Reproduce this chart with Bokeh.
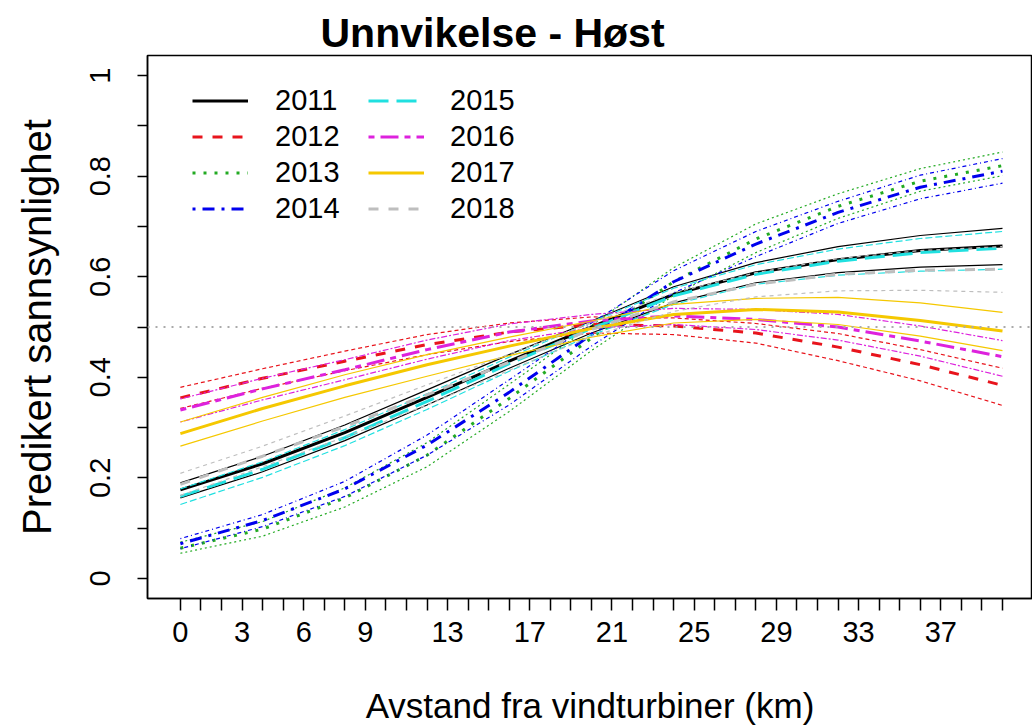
from bokeh.plotting import figure
from bokeh.models import Range1d, FixedTicker, Span, Legend, LegendItem, Title
from bokeh.embed import file_html
from bokeh.resources import INLINE

# ---------------- data ----------------
km = [0, 4, 8, 12, 16, 20, 24, 28, 32, 36, 40]

mean_2011 = [0.176, 0.228, 0.290, 0.360, 0.432, 0.500, 0.565, 0.608, 0.634, 0.652, 0.661]
hi_2011 = [0.190, 0.243, 0.305, 0.375, 0.445, 0.512, 0.580, 0.628, 0.660, 0.682, 0.696]
lo_2011 = [0.160, 0.212, 0.274, 0.345, 0.418, 0.488, 0.548, 0.588, 0.608, 0.619, 0.624]

mean_2012 = [0.359, 0.398, 0.432, 0.465, 0.490, 0.505, 0.502, 0.488, 0.460, 0.425, 0.384]
hi_2012 = [0.380, 0.417, 0.452, 0.485, 0.508, 0.520, 0.518, 0.507, 0.487, 0.455, 0.418]
lo_2012 = [0.338, 0.378, 0.413, 0.445, 0.471, 0.488, 0.485, 0.468, 0.433, 0.393, 0.344]

mean_2013 = [0.060, 0.098, 0.160, 0.245, 0.358, 0.478, 0.590, 0.675, 0.740, 0.790, 0.821]
hi_2013 = [0.072, 0.113, 0.180, 0.270, 0.386, 0.503, 0.618, 0.705, 0.765, 0.815, 0.848]
lo_2013 = [0.050, 0.084, 0.142, 0.222, 0.332, 0.453, 0.563, 0.648, 0.716, 0.770, 0.801]

mean_2014 = [0.069, 0.115, 0.178, 0.265, 0.370, 0.485, 0.590, 0.665, 0.728, 0.778, 0.810]
hi_2014 = [0.079, 0.127, 0.193, 0.285, 0.395, 0.508, 0.612, 0.690, 0.750, 0.802, 0.835]
lo_2014 = [0.059, 0.103, 0.163, 0.245, 0.345, 0.462, 0.568, 0.640, 0.706, 0.755, 0.786]

mean_2015 = [0.163, 0.217, 0.280, 0.352, 0.427, 0.497, 0.562, 0.605, 0.631, 0.648, 0.657]
hi_2015 = [0.178, 0.232, 0.296, 0.367, 0.440, 0.510, 0.577, 0.624, 0.655, 0.676, 0.690]
lo_2015 = [0.147, 0.201, 0.264, 0.336, 0.412, 0.484, 0.545, 0.585, 0.603, 0.611, 0.615]

mean_2016 = [0.335, 0.377, 0.415, 0.455, 0.490, 0.512, 0.522, 0.515, 0.500, 0.472, 0.441]
hi_2016 = [0.357, 0.398, 0.435, 0.474, 0.506, 0.525, 0.537, 0.535, 0.525, 0.502, 0.473]
lo_2016 = [0.311, 0.355, 0.395, 0.436, 0.473, 0.498, 0.505, 0.495, 0.474, 0.442, 0.402]

mean_2017 = [0.288, 0.338, 0.383, 0.425, 0.462, 0.497, 0.525, 0.535, 0.530, 0.513, 0.492]
hi_2017 = [0.311, 0.360, 0.405, 0.445, 0.480, 0.512, 0.545, 0.557, 0.559, 0.548, 0.529]
lo_2017 = [0.263, 0.313, 0.360, 0.402, 0.443, 0.480, 0.508, 0.515, 0.505, 0.482, 0.453]

mean_2018 = [0.187, 0.243, 0.302, 0.365, 0.430, 0.495, 0.550, 0.585, 0.605, 0.613, 0.615]
hi_2018 = [0.209, 0.263, 0.323, 0.385, 0.446, 0.508, 0.568, 0.608, 0.636, 0.652, 0.660]
lo_2018 = [0.165, 0.222, 0.281, 0.345, 0.414, 0.481, 0.531, 0.560, 0.572, 0.573, 0.569]

years = ["2011", "2012", "2013", "2014", "2015", "2016", "2017", "2018"]

y_ticks = [0.0, 0.1, 0.2, 0.3, 0.4, 0.5, 0.6, 0.7, 0.8, 0.9, 1.0]
y_tick_labels = ["0", "", "0.2", "", "0.4", "", "0.6", "", "0.8", "", "1"]
x_ticks = list(range(0, 41))
x_labelled = [0, 3, 6, 9, 13, 17, 21, 25, 29, 33, 37]

title_text = "Unnvikelse - Høst"
x_title = "Avstand fra vindturbiner (km)"
y_title = "Predikert sannsynlighet"

# ---------------- styles ----------------
series = {
    "2011": (mean_2011, lo_2011, hi_2011),
    "2012": (mean_2012, lo_2012, hi_2012),
    "2013": (mean_2013, lo_2013, hi_2013),
    "2014": (mean_2014, lo_2014, hi_2014),
    "2015": (mean_2015, lo_2015, hi_2015),
    "2016": (mean_2016, lo_2016, hi_2016),
    "2017": (mean_2017, lo_2017, hi_2017),
    "2018": (mean_2018, lo_2018, hi_2018),
}
colors = {
    "2011": "#000000", "2012": "#E8141C", "2013": "#22AA22", "2014": "#0000EE",
    "2015": "#20E0E0", "2016": "#DD22DD", "2017": "#F5C800", "2018": "#BEBEBE",
}
dash_thick = {
    "2011": "solid", "2012": "10 10", "2013": "3 8", "2014": "3 7 12 7",
    "2015": "20 8", "2016": "6 6 18 6", "2017": "solid", "2018": "10 10",
}
dash_thin = {
    "2011": "solid", "2012": "4 3", "2013": "2 3", "2014": "1 3 4 3",
    "2015": "7 3", "2016": "2 2 6 2", "2017": "solid", "2018": "4 4",
}

FONT = "Liberation Sans"

p = figure(width=1032, height=727,
           x_range=Range1d(-1.6, 41.46), y_range=Range1d(-0.04, 1.04),
           output_backend="svg", toolbar_location=None,
           min_border_left=147, min_border_right=0,
           min_border_top=55, min_border_bottom=129)

p.title = Title(text=title_text, align="left", offset=173,
                text_font=FONT, text_font_size="41px", text_font_style="bold",
                text_color="black", standoff=0)

p.xgrid.visible = False
p.ygrid.visible = False
p.outline_line_color = "black"
p.outline_line_width = 1.5
p.background_fill_color = "white"
p.border_fill_color = "white"

# reference line
p.add_layout(Span(location=0.5, dimension="width", line_color="#AAAAAA",
                  line_dash="2 6", line_width=2))

mean_renderers = {}
for yr in years:
    m, lo, hi = series[yr]
    c = colors[yr]
    p.line(km, lo, line_color=c, line_width=1.2, line_dash=dash_thin[yr])
    p.line(km, hi, line_color=c, line_width=1.2, line_dash=dash_thin[yr])
    mean_renderers[yr] = p.line(km, m, line_color=c, line_width=3, line_dash=dash_thick[yr])

# axes
xax = p.xaxis[0]
xax.ticker = FixedTicker(ticks=x_ticks)
xax.major_label_overrides = {t: (str(t) if t in x_labelled else "") for t in x_ticks}
xax.major_tick_out = 12
xax.major_tick_in = 0
xax.major_tick_line_width = 1.5
xax.minor_tick_line_color = None
xax.axis_line_width = 1.5
xax.major_label_standoff = 11
xax.major_label_text_font = FONT
xax.major_label_text_font_size = "29px"
xax.major_label_text_color = "black"
xax.axis_label = x_title
xax.axis_label_text_font = FONT
xax.axis_label_text_font_size = "35px"
xax.axis_label_text_font_style = "normal"
xax.axis_label_text_color = "black"
xax.axis_label_standoff = 41

yax = p.yaxis[0]
yax.ticker = FixedTicker(ticks=y_ticks)
yax.major_label_overrides = {t: lab for t, lab in zip(y_ticks, y_tick_labels)}
yax.major_label_orientation = "vertical"
yax.major_tick_out = 10
yax.major_tick_in = 0
yax.major_tick_line_width = 1.5
yax.minor_tick_line_color = None
yax.axis_line_width = 1.5
yax.major_label_standoff = 27
yax.major_label_text_font = FONT
yax.major_label_text_font_size = "29px"
yax.major_label_text_color = "black"
yax.axis_label = y_title
yax.axis_label_text_font = FONT
yax.axis_label_text_font_size = "40px"
yax.axis_label_text_font_style = "normal"
yax.axis_label_text_color = "black"
yax.axis_label_standoff = 29

# legends (two columns)
def make_legend(yrs, loc, standoff):
    leg = Legend(items=[LegendItem(label=y, renderers=[mean_renderers[y]]) for y in yrs],
                 location=loc, orientation="vertical",
                 glyph_width=56, glyph_height=35, label_height=35, spacing=1,
                 padding=0, margin=0, label_standoff=standoff,
                 label_text_font=FONT, label_text_font_size="29px",
                 label_text_color="black",
                 border_line_color=None, background_fill_alpha=0)
    return leg

p.add_layout(make_legend(years[:4], (45, 372), 27), "center")
p.add_layout(make_legend(years[4:], (221, 372), 26), "center")

open("out.html", "w").write(file_html(p, INLINE))
